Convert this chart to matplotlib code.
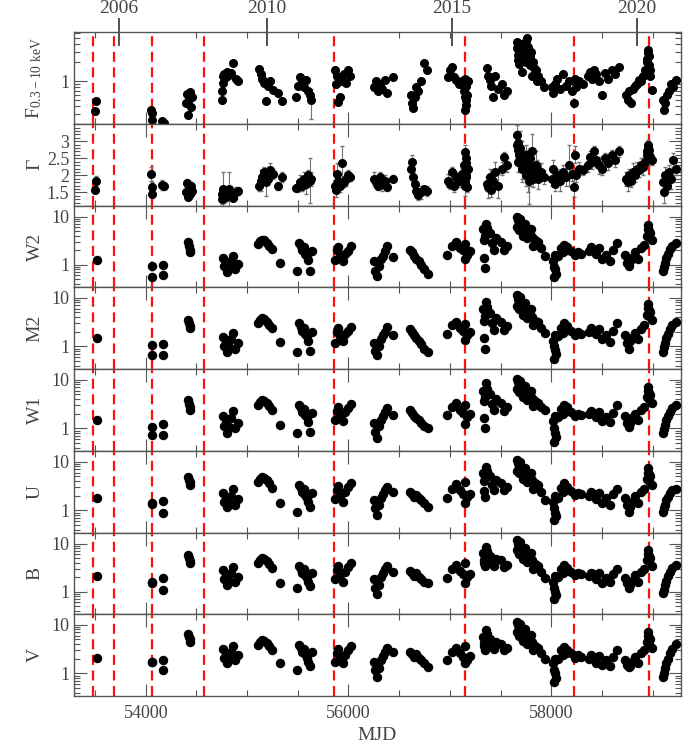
import numpy as np
import matplotlib
matplotlib.use("Agg")
import matplotlib.pyplot as plt
from matplotlib.ticker import MultipleLocator, LogLocator, NullFormatter

# --- data ---
# epochs of the red dashed markers (MJD)
red_mjd = [53476, 53683, 54059, 54572, 55859, 57149, 58227, 58965]
# calendar years on the top axis
year_labels = ["2006", "2010", "2015", "2020"]
year_mjd = [53736, 55197, 57023, 58849]

# X-ray epochs (MJD), one line per observing season
xray_mjd = [53497, 53512,
            54055, 54058, 54062,
            54165, 54178,
            54395, 54405, 54415, 54425, 54435, 54445, 54458,
            54750, 54755, 54760, 54765, 54775, 54790, 54805, 54825, 54845, 54865, 54890, 54910,
            55120, 55135, 55150, 55170, 55190, 55210, 55230, 55260, 55300, 55340,
            55480, 55500, 55520, 55540, 55560, 55580, 55600, 55620, 55635,
            55865, 55875, 55885, 55900, 55920, 55940, 55960, 55980, 56000, 56020,
            56250, 56270, 56290, 56310, 56330, 56360, 56385, 56440,
            56620, 56630, 56640, 56655, 56670, 56690, 56720, 56745, 56770,
            56985, 57000, 57020, 57040, 57060, 57090, 57120, 57140, 57145, 57150, 57155, 57160, 57165, 57175,
            57147, 57152, 57158, 57162,
            57365, 57380, 57395, 57410, 57430, 57450, 57480, 57510, 57530, 57560,
            57660, 57665, 57670, 57680, 57690, 57700, 57715, 57730, 57750, 57760,
            57770, 57780, 57790, 57800, 57815, 57830, 57850, 57870, 57895, 57930,
            57668, 57675, 57695, 57710, 57740, 57755, 57775, 57795, 57820, 57860,
            58005, 58020, 58040, 58060, 58090, 58120, 58150, 58180, 58210, 58225, 58230, 58240, 58270, 58310,
            58365, 58380, 58400, 58420, 58440, 58470, 58500, 58530, 58560, 58600, 58630, 58670,
            58740, 58755, 58770, 58790, 58810, 58830, 58850, 58870, 58890, 58910, 58930, 58945, 58955, 58965, 58975, 58990,
            58950, 58958, 58962, 58970,
            59105, 59115, 59125, 59140, 59160, 59180, 59200, 59230]

flux_x = [0.33, 0.48,
          0.34, 0.24, 0.31,
          0.23, 0.21,
          0.45, 0.62, 0.28, 0.52, 0.67, 0.38, 0.55,
          0.5, 0.7, 0.95, 1.2, 1.3, 1.15, 1.4, 1.25, 1.35, 1.95, 1.1, 1.0,
          1.55, 1.3, 1.1, 0.95, 0.48, 0.85, 1.0, 0.72, 0.65, 0.48,
          0.56, 0.85, 1.17, 1.0, 0.8, 1.05, 0.7, 0.6, 0.5,
          1.5, 0.9, 1.2, 0.46, 0.55, 1.0, 1.3, 0.95, 1.5, 1.2,
          0.8, 1.0, 0.7, 0.9, 0.75, 1.05, 0.65, 1.17,
          0.6, 0.45, 0.37, 0.55, 0.8, 0.7, 1.0, 1.93, 1.5,
          1.15, 1.5, 1.7, 1.15, 1.05, 0.9, 1.0, 0.7, 1.1, 0.34, 0.5, 0.85, 0.6, 1.0,
          0.8, 0.55, 0.95, 0.42,
          1.6, 1.2, 1.05, 0.85, 0.56, 1.2, 0.75, 0.9, 0.6, 0.7,
          4.3, 3.4, 2.6, 1.9, 3.0, 2.2, 1.4, 2.8, 4.5, 4.88,
          3.6, 2.4, 1.8, 3.0, 1.2, 1.6, 1.5, 1.2, 1.0, 0.8,
          3.8, 2.2, 4.0, 3.2, 3.6, 2.0, 2.9, 2.5, 2.0, 1.0,
          0.8, 0.65, 0.9, 1.1, 0.75, 1.3, 0.85, 1.0, 0.7, 0.44, 1.1, 0.8, 1.0, 0.9,
          1.2, 1.4, 1.1, 1.5, 1.3, 1.0, 0.6, 1.35, 1.1, 1.5, 1.3, 1.7,
          0.6, 0.5, 0.7, 0.45, 0.75, 0.85, 0.9, 1.05, 1.0, 1.2, 1.5, 2.0, 3.16, 2.5, 1.2, 0.72,
          2.3, 2.8, 1.8, 1.5,
          0.5, 0.34, 0.45, 0.6, 0.7, 0.9, 0.8, 1.04]

flux_x_err = [0.02, 0.03,
              0.02, 0.02, 0.02,
              0.01, 0.01,
              0.03, 0.04, 0.02, 0.03, 0.04, 0.03, 0.03,
              0.05, 0.05, 0.08, 0.1, 0.08, 0.06, 0.1, 0.08, 0.1, 0.1, 0.1, 0.08,
              0.1, 0.08, 0.08, 0.06, 0.05, 0.06, 0.08, 0.05, 0.05, 0.04,
              0.04, 0.06, 0.08, 0.06, 0.06, 0.08, 0.05, 0.05, 0.25,
              0.1, 0.06, 0.08, 0.05, 0.05, 0.07, 0.09, 0.06, 0.1, 0.08,
              0.05, 0.06, 0.05, 0.06, 0.05, 0.07, 0.05, 0.08,
              0.05, 0.04, 0.04, 0.05, 0.06, 0.05, 0.07, 0.12, 0.1,
              0.08, 0.1, 0.12, 0.08, 0.07, 0.06, 0.07, 0.05, 0.08, 0.03, 0.04, 0.06, 0.05, 0.07,
              0.05, 0.04, 0.06, 0.03,
              0.1, 0.08, 0.07, 0.06, 0.05, 0.08, 0.06, 0.06, 0.05, 0.05,
              0.25, 0.2, 0.15, 0.12, 0.18, 0.15, 0.1, 0.18, 0.3, 0.3,
              0.2, 0.15, 0.12, 0.2, 0.08, 0.1, 0.1, 0.08, 0.07, 0.06,
              0.25, 0.15, 0.25, 0.2, 0.2, 0.12, 0.2, 0.15, 0.12, 0.07,
              0.05, 0.05, 0.06, 0.08, 0.05, 0.1, 0.06, 0.07, 0.05, 0.04, 0.08, 0.06, 0.07, 0.06,
              0.08, 0.1, 0.07, 0.1, 0.08, 0.07, 0.05, 0.09, 0.07, 0.1, 0.08, 0.1,
              0.05, 0.05, 0.06, 0.04, 0.06, 0.06, 0.06, 0.07, 0.07, 0.08, 0.1, 0.12, 0.2, 0.15, 0.08, 0.06,
              0.15, 0.2, 0.12, 0.1,
              0.05, 0.03, 0.04, 0.05, 0.05, 0.06, 0.06, 0.07]

gamma = [1.58, 1.84,
         2.04, 1.65, 1.46,
         1.72, 1.68,
         1.5, 1.78, 1.37, 1.6, 1.45, 1.7, 1.55,
         1.45, 1.3, 1.6, 1.5, 1.35, 1.55, 1.4, 1.6, 1.45, 1.35, 1.5, 1.55,
         1.7, 1.85, 1.95, 2.1, 1.8, 1.9, 2.15, 2.05, 1.7, 1.95,
         1.63, 1.65, 1.8, 1.7, 1.9, 1.75, 2.0, 1.85, 1.9,
         1.7, 1.58, 2.05, 1.85, 1.7, 2.35, 1.8, 1.9, 2.0, 1.95,
         1.9, 1.8, 1.7, 1.95, 1.75, 1.85, 1.65, 1.9,
         2.2, 2.4, 1.95, 1.75, 1.55, 1.43, 1.5, 1.6, 1.55,
         1.85, 1.75, 2.1, 1.7, 1.95, 1.85, 2.05, 2.3, 1.7, 2.68, 1.95, 2.5, 1.66, 2.2,
         2.1, 1.8, 2.35, 2.0,
         1.75, 1.65, 1.95, 1.58, 1.85, 2.1, 1.7, 2.2, 2.54, 2.3,
         3.17, 2.9, 2.75, 2.6, 2.8, 2.5, 2.4, 2.3, 2.6, 2.2,
         2.0, 1.85, 2.5, 2.2, 2.7, 2.1, 2.3, 1.9, 2.1, 1.95,
         2.95, 2.4, 2.65, 2.2, 2.4, 2.0, 2.35, 2.0, 1.9, 2.2,
         1.9, 2.2, 1.75, 2.0, 1.85, 2.1, 1.95, 2.3, 2.05, 1.66, 2.6, 2.0, 2.2, 2.15,
         2.3, 2.55, 2.4, 2.7, 2.45, 2.3, 2.2, 2.5, 2.35, 2.6, 2.45, 2.7,
         1.9, 1.8, 2.0, 1.85, 2.1, 2.0, 2.2, 2.15, 2.3, 2.25, 2.4, 2.6, 2.9, 2.75, 2.5, 2.45,
         2.7, 2.85, 2.6, 2.55,
         1.8, 1.5, 2.0, 1.7, 2.1, 1.9, 2.45, 2.2]

gamma_err = [0.1, 0.15,
             0.2, 0.15, 0.12,
             0.15, 0.12,
             0.15, 0.12, 0.1, 0.15, 0.12, 0.1, 0.12,
             0.2, 0.15, 0.5, 0.12, 0.15, 0.1, 0.15, 0.5, 0.12, 0.1, 0.15, 0.12,
             0.15, 0.3, 0.2, 0.15, 0.4, 0.15, 0.2, 0.15, 0.12, 0.15,
             0.1, 0.15, 0.2, 0.15, 0.2, 0.3, 0.15, 0.65, 0.2,
             0.15, 0.2, 0.3, 0.15, 0.2, 0.5, 0.15, 0.2, 0.15, 0.12,
             0.2, 0.15, 0.12, 0.15, 0.2, 0.15, 0.12, 0.1,
             0.25, 0.2, 0.15, 0.15, 0.12, 0.15, 0.2, 0.1, 0.15,
             0.2, 0.15, 0.15, 0.2, 0.15, 0.2, 0.15, 0.2, 0.3, 0.2, 0.25, 0.2, 0.15, 0.2,
             0.2, 0.2, 0.25, 0.2,
             0.2, 0.3, 0.25, 0.2, 0.2, 0.3, 0.35, 0.2, 0.15, 0.2,
             0.3, 0.4, 0.3, 0.35, 0.5, 0.3, 0.6, 0.4, 0.3, 0.35,
             0.5, 0.7, 0.3, 0.4, 0.5, 0.3, 0.4, 0.3, 0.25, 0.2,
             0.35, 0.3, 0.4, 0.3, 0.35, 0.3, 0.4, 0.3, 0.25, 0.25,
             0.2, 0.25, 0.2, 0.2, 0.3, 0.2, 0.25, 0.6, 0.2, 0.3, 0.25, 0.2, 0.2, 0.15,
             0.2, 0.15, 0.2, 0.15, 0.2, 0.25, 0.2, 0.15, 0.2, 0.15, 0.2, 0.15,
             0.2, 0.25, 0.2, 0.2, 0.25, 0.2, 0.2, 0.2, 0.2, 0.25, 0.2, 0.2, 0.15, 0.2, 0.2, 0.15,
             0.2, 0.2, 0.2, 0.2,
             0.2, 0.3, 0.25, 0.2, 0.2, 0.3, 0.2, 0.2]

# UVOT epochs (MJD), shared by the six optical/UV bands
uvot_mjd = [53515,
            54057, 54061,
            54168, 54172,
            54418, 54425, 54432, 54440,
            54760, 54775, 54790, 54805, 54820, 54840, 54860, 54885, 54910,
            55110, 55130, 55150, 55170, 55195, 55220, 55250, 55320,
            55489, 55515, 55530, 55545, 55560, 55575, 55590, 55605, 55620, 55640,
            55870, 55885, 55900, 55920, 55945, 55970, 55995, 56025,
            56250, 56265, 56280, 56300, 56320, 56340, 56360, 56385, 56440,
            56610, 56630, 56650, 56670, 56695, 56720, 56750, 56780,
            56968, 57020, 57060, 57100, 57130, 57145, 57152, 57170, 57200,
            57330, 57335, 57340, 57345, 57355, 57400, 57420, 57440, 57500, 57560,
            57350, 57370, 57460, 57530,
            57660, 57670, 57685, 57700, 57715, 57730, 57750, 57770, 57790, 57810, 57840, 57870, 57900, 57935,
            57665, 57678, 57692, 57722, 57740, 57760, 57800, 57825,
            58020, 58028, 58035, 58045, 58070, 58100, 58130, 58160, 58200, 58230, 58260, 58295,
            58025, 58040, 58115, 58145,
            58370, 58390, 58410, 58440, 58470, 58500, 58540, 58580, 58610, 58650,
            58730, 58750, 58770, 58800, 58830, 58860, 58890, 58920, 58950, 58960, 58968, 58990,
            58955, 58963, 58972, 58780,
            59100, 59110, 59120, 59135, 59150, 59170, 59190, 59230]

w2 = [1.24,
      0.93, 0.56,
      1.0, 0.6,
      3.0, 2.5, 2.0, 1.8,
      1.35, 0.95, 1.1, 0.7, 0.85, 1.2, 1.5, 0.8, 1.05,
      2.7, 3.1, 3.3, 3.2, 2.8, 2.5, 2.1, 1.07,
      0.73, 2.86, 2.4, 2.0, 2.3, 1.7, 1.5, 1.25, 0.73, 1.9,
      1.25, 2.0, 2.3, 1.5, 1.2, 1.7, 1.9, 2.4,
      1.2, 0.75, 0.58, 0.95, 1.3, 1.5, 1.9, 2.4, 1.45,
      2.0, 1.8, 1.5, 1.3, 1.2, 1.0, 0.8, 0.63,
      1.6, 2.5, 2.9, 2.2, 2.0, 2.7, 1.3, 1.6, 1.9,
      5.5, 3.2, 1.4, 0.87, 7.0, 4.5, 2.8, 2.0, 3.0, 2.4,
      4.0, 5.8, 3.6, 2.0,
      9.9, 8.5, 7.5, 6.5, 7.0, 5.5, 5.0, 4.8, 4.2, 3.8, 3.2, 3.0, 2.2, 1.5,
      6.0, 5.2, 9.0, 4.0, 7.0, 3.5, 5.5, 2.5,
      1.2, 0.55, 0.8, 0.65, 1.5, 2.2, 2.6, 2.3, 1.9, 1.6, 1.8, 1.7,
      0.9, 1.6, 1.8, 2.0,
      1.9, 2.3, 2.0, 1.7, 2.2, 1.3, 1.6, 1.2, 2.0, 2.85,
      1.6, 1.1, 0.92, 1.4, 1.8, 1.3, 2.2, 2.6, 4.0, 6.7, 5.0, 3.2,
      5.5, 3.8, 4.5, 1.2,
      0.73, 0.9, 1.1, 1.4, 1.7, 2.1, 2.5, 2.85]

m2 = [1.5,
      1.06, 0.68,
      1.1, 0.68,
      3.45, 3.0, 2.6, 2.35,
      1.55, 1.0, 1.25, 0.78, 0.95, 1.4, 1.85, 0.9, 1.15,
      3.0, 3.5, 3.75, 3.6, 3.2, 2.8, 2.35, 1.24,
      0.78, 2.96, 2.5, 2.1, 2.4, 1.8, 1.6, 1.3, 0.8, 2.0,
      1.2, 2.0, 2.4, 1.6, 1.3, 1.8, 2.1, 2.5,
      1.2, 0.8, 0.66, 1.0, 1.4, 1.7, 2.0, 2.5, 1.7,
      2.33, 2.0, 1.7, 1.5, 1.3, 1.1, 0.9, 0.77,
      1.8, 2.7, 3.2, 2.4, 2.1, 2.9, 1.34, 1.7, 2.0,
      5.8, 3.4, 1.5, 0.9, 8.2, 4.8, 3.0, 2.2, 3.2, 2.6,
      4.3, 6.3, 3.9, 2.2,
      11.3, 9.5, 8.2, 7.2, 7.6, 6.0, 5.5, 5.2, 4.5, 4.0, 3.4, 3.1, 2.4, 1.84,
      6.8, 5.8, 10.2, 4.4, 7.8, 3.8, 6.0, 2.7,
      1.3, 0.56, 0.85, 0.7, 1.6, 2.4, 2.96, 2.6, 2.1, 1.7, 2.0, 1.8,
      1.0, 1.7, 1.9, 2.2,
      2.0, 2.4, 2.1, 1.8, 2.3, 1.4, 1.7, 1.24, 2.1, 2.96,
      1.7, 1.2, 0.9, 1.5, 1.9, 1.4, 2.3, 2.7, 4.5, 7.6, 5.5, 3.5,
      6.2, 4.2, 5.0, 1.3,
      0.78, 0.95, 1.2, 1.5, 1.8, 2.3, 2.8, 3.2]

w1 = [1.47,
      1.07, 0.72,
      1.26, 0.72,
      3.8, 3.2, 2.7, 2.4,
      1.8, 1.1, 1.4, 0.82, 1.05, 1.6, 2.3, 1.0, 1.3,
      3.0, 3.5, 3.8, 3.7, 3.3, 2.9, 2.4, 1.2,
      0.79, 3.0, 2.6, 2.2, 2.5, 1.9, 1.7, 1.35, 0.85, 2.1,
      1.5, 2.3, 2.8, 1.8, 1.4, 2.2, 2.6, 3.2,
      1.3, 0.85, 0.62, 1.1, 1.5, 1.8, 2.2, 2.57, 1.9,
      2.37, 2.1, 1.8, 1.6, 1.5, 1.3, 1.1, 1.0,
      1.9, 2.8, 3.25, 2.4, 2.1, 3.0, 1.26, 1.7, 2.0,
      6.0, 3.6, 1.6, 1.0, 8.4, 5.0, 3.2, 2.4, 3.4, 2.8,
      4.5, 6.6, 4.0, 2.3,
      10.6, 9.2, 8.0, 7.0, 7.4, 6.0, 5.5, 5.2, 4.6, 4.2, 3.6, 3.4, 2.8, 2.37,
      6.5, 5.6, 9.6, 4.4, 7.5, 3.9, 5.8, 2.9,
      1.4, 0.53, 0.8, 0.65, 1.7, 2.5, 3.0, 2.7, 2.2, 1.8, 2.0, 1.9,
      1.0, 1.8, 2.0, 2.3,
      2.0, 2.3, 2.1, 1.7, 2.2, 1.4, 1.7, 1.36, 2.1, 3.0,
      1.8, 1.3, 1.07, 1.6, 2.0, 1.5, 2.4, 2.8, 4.4, 7.2, 5.3, 3.4,
      6.0, 4.0, 4.8, 1.3,
      0.8, 0.95, 1.2, 1.5, 1.8, 2.2, 2.6, 3.0]

u_band = [1.8,
          1.39, 1.36,
          1.55, 0.89,
          4.9, 4.3, 3.8, 3.4,
          2.3, 1.5, 1.8, 1.15, 1.4, 2.0, 2.8, 1.3, 1.7,
          3.9, 4.5, 4.9, 4.7, 4.2, 3.6, 2.9, 1.43,
          0.93, 3.3, 2.9, 2.4, 2.8, 2.1, 1.8, 1.5, 1.2, 2.3,
          1.7, 2.6, 3.2, 2.0, 1.5, 2.4, 3.0, 3.7,
          1.6, 1.1, 0.8, 1.3, 1.8, 2.2, 2.6, 3.0, 2.4,
          2.4, 2.2, 1.9, 2.1, 1.8, 1.6, 1.4, 1.18,
          1.84, 2.8, 3.5, 2.6, 2.2, 3.85, 1.4, 1.9, 2.2,
          6.0, 4.0, 2.5, 1.9, 7.9, 5.0, 3.4, 2.6, 3.6, 3.0,
          4.8, 6.5, 4.2, 2.6,
          10.8, 9.4, 8.2, 7.2, 7.6, 6.2, 5.6, 5.3, 4.8, 4.3, 3.6, 3.3, 2.4, 1.6,
          6.6, 5.8, 9.8, 4.5, 7.6, 3.9, 6.0, 2.8,
          1.5, 0.63, 0.9, 0.75, 1.8, 2.9, 3.6, 3.0, 2.5, 2.1, 2.3, 2.2,
          1.1, 2.0, 2.4, 2.6,
          2.0, 2.4, 2.2, 1.7, 2.3, 1.4, 1.8, 1.28, 2.2, 2.8,
          1.8, 1.3, 0.93, 1.5, 2.0, 1.4, 2.4, 2.8, 4.5, 7.3, 5.5, 3.4,
          6.0, 4.1, 5.0, 1.2,
          0.93, 1.1, 1.3, 1.6, 1.9, 2.3, 2.6, 2.8]

b_band = [2.08,
          1.57, 1.52,
          1.9, 1.1,
          5.8, 5.0, 4.4, 4.0,
          2.8, 1.8, 2.2, 1.35, 1.7, 2.4, 3.3, 1.6, 2.0,
          4.0, 4.6, 5.0, 4.8, 4.3, 3.7, 3.15, 1.52,
          1.2, 3.35, 3.0, 2.5, 2.9, 2.2, 1.9, 1.6, 1.3, 2.4,
          1.8, 2.8, 3.5, 2.2, 1.6, 2.6, 3.3, 4.0,
          1.8, 1.2, 0.88, 1.4, 2.0, 2.4, 2.9, 3.35, 2.6,
          2.7, 2.4, 2.1, 2.4, 2.0, 1.8, 1.6, 1.5,
          1.9, 3.0, 3.6, 2.7, 2.3, 3.9, 1.5, 2.0, 2.3,
          6.5, 4.5, 4.0, 3.4, 8.6, 5.5, 4.0, 3.35, 4.5, 3.6,
          5.3, 7.0, 4.8, 3.2,
          11.8, 10.0, 8.8, 7.6, 8.0, 6.5, 6.0, 5.6, 5.0, 4.5, 3.8, 3.5, 2.6, 1.9,
          7.2, 6.2, 10.6, 4.8, 8.2, 4.2, 6.4, 3.0,
          1.6, 0.69, 1.0, 0.85, 2.0, 3.0, 3.6, 3.1, 2.6, 2.2, 2.5, 2.3,
          1.2, 2.1, 2.5, 2.7,
          2.1, 2.5, 2.3, 1.8, 2.4, 1.55, 1.9, 1.6, 2.3, 3.0,
          1.9, 1.5, 1.2, 1.7, 2.2, 1.6, 2.6, 3.0, 4.6, 7.4, 5.6, 3.5,
          6.2, 4.3, 5.1, 1.4,
          0.93, 1.1, 1.4, 1.7, 2.1, 2.6, 3.1, 3.6]

v_band = [2.12,
          1.72, 1.68,
          1.87, 1.2,
          6.4, 5.6, 5.0, 4.5,
          3.2, 2.1, 2.6, 1.65, 2.0, 2.8, 3.7, 1.9, 2.4,
          3.9, 4.4, 4.8, 4.6, 4.2, 3.6, 3.0, 1.6,
          1.16, 3.8, 3.3, 2.8, 3.2, 2.5, 2.1, 1.7, 1.4, 2.7,
          1.7, 2.6, 3.2, 2.0, 1.6, 2.4, 3.0, 3.6,
          1.7, 1.2, 0.85, 1.3, 1.9, 2.3, 2.8, 3.3, 2.7,
          2.8, 2.5, 2.2, 2.5, 2.1, 1.9, 1.6, 1.36,
          1.9, 2.8, 3.3, 2.6, 2.2, 3.6, 1.6, 1.9, 2.3,
          5.5, 4.2, 3.6, 3.0, 7.7, 5.0, 3.8, 3.2, 4.0, 3.4,
          5.0, 6.5, 4.5, 3.0,
          11.5, 9.8, 8.6, 7.5, 7.9, 6.4, 5.9, 5.5, 4.9, 4.4, 3.7, 3.4, 2.6, 2.0,
          7.0, 6.0, 10.4, 4.7, 8.0, 4.1, 6.3, 3.0,
          1.6, 0.67, 1.0, 0.8, 2.0, 3.0, 3.5, 3.0, 2.6, 2.1, 2.4, 2.2,
          1.2, 2.0, 2.4, 2.6,
          2.0, 2.4, 2.2, 1.6, 2.3, 1.5, 1.9, 1.4, 2.2, 3.0,
          1.9, 1.5, 1.36, 1.7, 2.2, 1.6, 2.6, 3.0, 4.4, 7.2, 5.4, 3.4,
          6.0, 4.0, 5.0, 1.4,
          0.85, 1.0, 1.3, 1.6, 2.0, 2.6, 3.2, 4.1]

uvot_bands = ["W2", "M2", "W1", "U", "B", "V"]
uvot_values = [w2, m2, w1, u_band, b_band, v_band]

# --- style ---
plt.rcParams["font.family"] = ["Liberation Serif", "DejaVu Serif"]
plt.rcParams["mathtext.fontset"] = "custom"
plt.rcParams["mathtext.rm"] = "Liberation Serif"
plt.rcParams["mathtext.it"] = "Liberation Serif"
txt_col = "#444444"
ax_col = "#555555"

fig, axes = plt.subplots(8, 1, sharex=True, figsize=(6.99, 7.47), dpi=100,
                         gridspec_kw={"height_ratios": [92, 82, 81, 82, 82, 82, 81, 82],
                                      "hspace": 0})
fig.subplots_adjust(left=0.106, right=0.974, top=0.957, bottom=0.068)

for ax in axes:
    for s in ax.spines.values():
        s.set_color(ax_col)
        s.set_linewidth(1.0)
    ax.tick_params(which="both", direction="in", top=True, right=True,
                   colors=ax_col, labelcolor=txt_col, labelsize=13, width=0.8)
    ax.tick_params(which="major", length=9)
    ax.tick_params(which="minor", length=4.5)
    for m in red_mjd:
        ax.axvline(m, color="#ff1010", lw=1.6, linestyle=(0, (4.5, 2.5)), zorder=1)

# X-ray flux
ax = axes[0]
ax.errorbar(xray_mjd, flux_x, yerr=flux_x_err, fmt="o", color="black", ms=5.5,
            ecolor="0.45", elinewidth=0.8, capsize=1.5, zorder=3)
ax.set_yscale("log")
ax.set_ylim(0.203, 6.17)
ax.set_yticks([1])
ax.set_yticklabels(["1"])
ax.yaxis.set_minor_locator(LogLocator(base=10, subs=np.arange(2, 10)))
ax.yaxis.set_minor_formatter(NullFormatter())
ax.tick_params(top=False)
ax.set_ylabel(r"F$_{\rm 0.3-10\ keV}$", fontsize=14, color=txt_col)

# top axis with calendar years
sec = ax.secondary_xaxis("top")
sec.set_xticks(year_mjd)
sec.set_xticklabels(year_labels)
sec.tick_params(direction="inout", length=20, width=1.2, colors="#333333",
                labelcolor=txt_col, labelsize=14, pad=1)
sec.spines["top"].set_visible(False)

# photon index
ax = axes[1]
ax.errorbar(xray_mjd, gamma, yerr=gamma_err, fmt="o", color="black", ms=5.5,
            ecolor="0.45", elinewidth=0.8, capsize=1.5, zorder=3)
ax.set_ylim(1.1, 3.5)
ax.set_yticks([1.5, 2, 2.5, 3])
ax.set_yticklabels(["1.5", "2", "2.5", "3"])
ax.yaxis.set_minor_locator(MultipleLocator(0.1))
ax.set_ylabel(r"$\Gamma$", fontsize=14, color=txt_col)

# UVOT bands
for ax, band, vals in zip(axes[2:], uvot_bands, uvot_values):
    ax.plot(uvot_mjd, vals, "o", color="black", ms=5.8, zorder=3)
    ax.set_yscale("log")
    ax.set_ylim(0.34, 16.5)
    ax.set_yticks([1, 10])
    ax.set_yticklabels(["1", "10"])
    ax.yaxis.set_minor_locator(LogLocator(base=10, subs=np.arange(2, 10)))
    ax.yaxis.set_minor_formatter(NullFormatter())
    ax.set_ylabel(band, fontsize=14, color=txt_col)

for ax in axes:
    ax.yaxis.set_label_coords(-0.05, 0.5)

ax = axes[-1]
ax.set_xlim(53293, 59279)
ax.xaxis.set_minor_locator(MultipleLocator(500))
ax.set_xticks([54000, 56000, 58000])
ax.set_xticklabels(["54000", "56000", "58000"])
ax.tick_params(axis="x", labelsize=13, pad=6)
ax.set_xlabel("MJD", fontsize=14, color=txt_col)

fig.savefig("out.png", dpi=100)
